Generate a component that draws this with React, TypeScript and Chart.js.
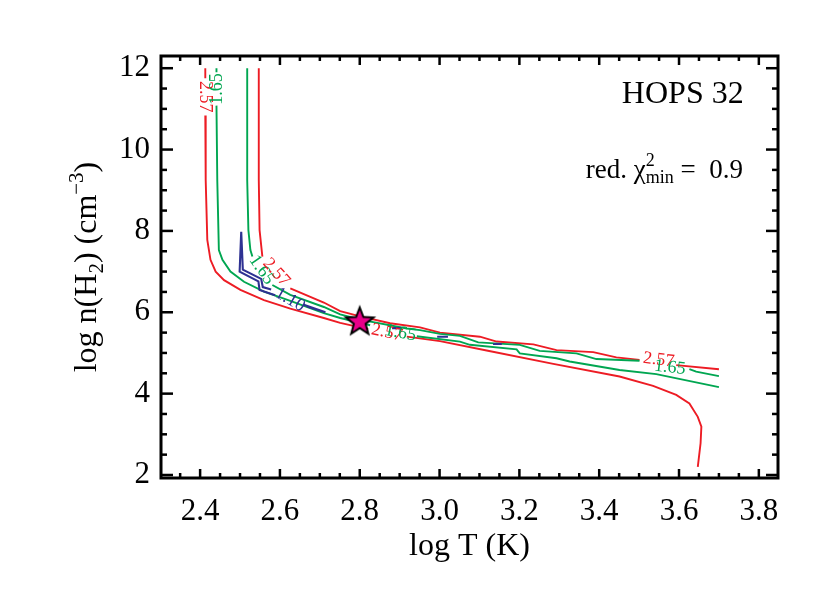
import React, { useEffect, useRef } from 'react';
import { Chart, registerables } from 'chart.js';

Chart.register(...registerables);

const SERIF = "'Liberation Serif', 'Times New Roman', Times, serif";

// ---- axes ----
const xLimits = [2.302, 3.848];
const yLimits = [1.926, 12.3];
const xMajorTicks = [2.4, 2.6, 2.8, 3.0, 3.2, 3.4, 3.6, 3.8];
const yMajorTicks = [2, 4, 6, 8, 10, 12];
const xMinorStep = 0.05;
const yMinorStep = 0.5;

// ---- contour levels ----
const levelValues = ['2.57', '1.65', '1.10'];
const levelColors = ['#ED1C24', '#00A651', '#2E3192'];

// chi2 = 2.57 (red), outer / lower branch  (null = gap where a label sits)
const red257OuterX = [2.413, 2.413, null, 2.413, 2.414, 2.418, 2.426, 2.439, 2.460, 2.501, 2.560, 2.626, 2.710, 2.751, 2.801, 2.821, null, 2.918, 3.001, 3.118, 3.285, 3.451, 3.535, 3.593, 3.626, 3.647, 3.656, 3.654, 3.647];
const red257OuterY = [12.0, 11.75, null, 10.84, 9.25, 7.78, 7.29, 7.00, 6.79, 6.55, 6.30, 6.09, 5.86, 5.74, 5.63, 5.59, null, 5.40, 5.29, 5.06, 4.73, 4.42, 4.19, 3.97, 3.76, 3.43, 3.19, 2.78, 2.20];

// chi2 = 2.57 (red), inner / upper branch
const red257InnerX = [2.547, 2.547, 2.549, 2.556, null, 2.626, 2.710, 2.751, 2.801, 2.876, 2.951, 3.001, 3.101, 3.143, 3.235, 3.293, 3.385, 3.443, 3.501, null, 3.593, 3.700];
const red257InnerY = [12.0, 9.25, 8.02, 7.37, null, 6.59, 6.24, 6.03, 5.90, 5.73, 5.63, 5.50, 5.40, 5.28, 5.21, 5.07, 5.02, 4.89, 4.83, null, 4.70, 4.60];

// chi2 = 1.65 (green), outer / lower branch
const green165OuterX = [2.441, 2.441, null, 2.441, 2.443, 2.447, 2.456, 2.476, 2.510, 2.560, 2.626, 2.710, 2.751, 2.801, 2.826, null, 2.943, 3.051, 3.076, 3.193, 3.201, 3.293, 3.326, 3.451, 3.543, 3.700];
const green165OuterY = [12.0, 11.90, null, 11.08, 9.25, 7.53, 7.29, 7.00, 6.75, 6.51, 6.28, 5.98, 5.86, 5.74, 5.68, null, 5.41, 5.28, 5.20, 5.09, 4.99, 4.87, 4.79, 4.58, 4.48, 4.16];

// chi2 = 1.65 (green), inner / upper branch
const green165InnerX = [2.518, 2.518, 2.521, 2.526, 2.531, null, 2.581, 2.626, 2.710, 2.751, 2.801, 2.918, 2.951, 3.001, 3.051, 3.097, 3.201, 3.251, 3.343, 3.393, 3.501, null, 3.626, 3.643, 3.700];
const green165InnerY = [12.0, 9.25, 8.02, 7.53, 7.37, null, 6.67, 6.43, 6.13, 5.95, 5.82, 5.60, 5.56, 5.47, 5.42, 5.26, 5.20, 5.05, 4.99, 4.85, 4.81, null, 4.60, 4.54, 4.43];

// chi2 = 1.10 (blue) closed contour and small islands
const blue110X = [2.503, 2.499, 2.546, 2.549, 2.588, null, 2.658, 2.714, 2.668, null, 2.503, 2.507, 2.553, 2.557, 2.578, null, 2.881, 2.906, null, 2.994, 3.021, null, 3.134, 3.156];
const blue110Y = [7.98, 7.00, 6.76, 6.55, 6.42, null, 6.19, 6.00, 6.14, null, 7.98, 7.05, 6.82, 6.62, 6.56, null, 5.61, 5.61, null, 5.40, 5.40, null, 5.22, 5.22];

// contour labels (level index, data position, angle in degrees)
const contourLabelLevel = [0, 1, 1, 0, 2, 0, 1, 0, 1];
const contourLabelX = [2.411, 2.444, 2.554, 2.591, 2.625, 2.868, 2.902, 3.549, 3.577];
const contourLabelY = [11.30, 11.49, 7.04, 6.98, 6.31, 5.50, 5.49, 4.83, 4.64];
const contourLabelAngle = [90, -90, 55, 48, 30, 12, 11, 7, 7];

// best fit
const bestX = [2.8];
const bestY = [5.8];

// annotations
const sourceName = 'HOPS 32';
const chiMinValue = '0.9';
const sourceNamePos = [3.762, 11.15];
const chiTextPos = [3.760, 9.30];

function toPoints(xs: (number | null)[], ys: (number | null)[]) {
  const pts: { x: number; y: number | null }[] = [];
  let lastX = xs[0] as number;
  xs.forEach((x, i) => {
    if (x !== null) lastX = x;
    pts.push({ x: x === null ? lastX : x, y: ys[i] });
  });
  return pts;
}

function makeStar(): HTMLCanvasElement {
  const c = document.createElement('canvas');
  const size = 34;
  c.width = size;
  c.height = size;
  const g = c.getContext('2d')!;
  const cx = size / 2, cy = size / 2 + 1.5;
  const R = 14.5, r = 6.2;
  g.beginPath();
  for (let i = 0; i < 10; i++) {
    const rad = i % 2 === 0 ? R : r;
    const a = -Math.PI / 2 + (i * Math.PI) / 5;
    const px = cx + rad * Math.cos(a);
    const py = cy + rad * Math.sin(a);
    if (i === 0) g.moveTo(px, py);
    else g.lineTo(px, py);
  }
  g.closePath();
  g.fillStyle = '#E8008A';
  g.fill();
  g.lineWidth = 2;
  g.lineJoin = 'miter';
  g.strokeStyle = '#000';
  g.stroke();
  return c;
}

const idlPlugin = {
  id: 'idlDecor',
  afterDatasetsDraw(chart: any) {
    const { ctx, scales } = chart;
    const xs = scales.x, ys = scales.y;
    ctx.save();
    ctx.font = `18px ${SERIF}`;
    ctx.textAlign = 'center';
    ctx.textBaseline = 'middle';
    contourLabelX.forEach((lx, i) => {
      const px = xs.getPixelForValue(lx);
      const py = ys.getPixelForValue(contourLabelY[i]);
      ctx.save();
      ctx.translate(px, py);
      ctx.rotate((contourLabelAngle[i] * Math.PI) / 180);
      ctx.fillStyle = levelColors[contourLabelLevel[i]];
      ctx.fillText(levelValues[contourLabelLevel[i]], 0, 0);
      ctx.restore();
    });
    ctx.restore();
  },
  afterDraw(chart: any) {
    const { ctx, chartArea: a, scales } = chart;
    const xs = scales.x, ys = scales.y;
    ctx.save();
    ctx.strokeStyle = '#000';
    ctx.lineCap = 'butt';
    const seg = (x1: number, y1: number, x2: number, y2: number) => {
      ctx.beginPath();
      ctx.moveTo(x1, y1);
      ctx.lineTo(x2, y2);
      ctx.stroke();
    };
    ctx.lineWidth = 2.5;
    // x ticks (bottom and top, pointing inward)
    for (let i = Math.ceil(xs.min / xMinorStep - 1e-6); i * xMinorStep <= xs.max + 1e-9; i++) {
      const v = i * xMinorStep;
      const major = xMajorTicks.some((t) => Math.abs(t - v) < 1e-6);
      const len = major ? 9 : 5;
      const px = xs.getPixelForValue(v);
      seg(px, a.bottom, px, a.bottom - len);
      seg(px, a.top, px, a.top + len);
    }
    // y ticks (left and right)
    for (let i = Math.ceil(ys.min / yMinorStep - 1e-6); i * yMinorStep <= ys.max + 1e-9; i++) {
      const v = i * yMinorStep;
      const major = yMajorTicks.some((t) => Math.abs(t - v) < 1e-6);
      const len = major ? 12 : 6;
      const py = ys.getPixelForValue(v);
      seg(a.left, py, a.left + len, py);
      seg(a.right, py, a.right - len, py);
    }
    ctx.lineWidth = 3;
    ctx.strokeRect(a.left, a.top, a.right - a.left, a.bottom - a.top);

    ctx.fillStyle = '#000';
    ctx.textBaseline = 'alphabetic';

    // y axis title with sub/superscripts
    const yParts = [
      { t: 'log n(H', s: 32, dy: 0 },
      { t: '2', s: 21, dy: 7 },
      { t: ') (cm', s: 32, dy: 0 },
      { t: '\u22123', s: 21, dy: -13 },
      { t: ')', s: 32, dy: 0 },
    ];
    let total = 0;
    yParts.forEach((p) => {
      ctx.font = `${p.s}px ${SERIF}`;
      total += ctx.measureText(p.t).width;
    });
    ctx.save();
    ctx.translate(96, (a.top + a.bottom) / 2);
    ctx.rotate(-Math.PI / 2);
    ctx.textAlign = 'left';
    let cx = -total / 2;
    yParts.forEach((p) => {
      ctx.font = `${p.s}px ${SERIF}`;
      ctx.fillText(p.t, cx, p.dy);
      cx += ctx.measureText(p.t).width;
    });
    ctx.restore();

    // source name
    ctx.textAlign = 'right';
    ctx.font = `32px ${SERIF}`;
    ctx.fillText(sourceName, xs.getPixelForValue(sourceNamePos[0]), ys.getPixelForValue(sourceNamePos[1]));

    // reduced chi2
    const big = 27, small = 18;
    const rightX = xs.getPixelForValue(chiTextPos[0]);
    const baseY = ys.getPixelForValue(chiTextPos[1]);
    ctx.textAlign = 'left';
    ctx.font = `${big}px ${SERIF}`;
    const wRed = ctx.measureText('red. ').width;
    const wChi = ctx.measureText('\u03C7').width;
    const wEnd = ctx.measureText(' =  ' + chiMinValue).width;
    ctx.font = `${small}px ${SERIF}`;
    const wStack = Math.max(ctx.measureText('2').width, ctx.measureText('min').width);
    let x0 = rightX - (wRed + wChi + wStack + wEnd);
    ctx.font = `${big}px ${SERIF}`;
    ctx.fillText('red. ', x0, baseY);
    x0 += wRed;
    ctx.fillText('\u03C7', x0, baseY);
    x0 += wChi;
    ctx.font = `${small}px ${SERIF}`;
    ctx.fillText('2', x0, baseY - 12);
    ctx.fillText('min', x0, baseY + 5);
    x0 += wStack;
    ctx.font = `${big}px ${SERIF}`;
    ctx.fillText(' =  ' + chiMinValue, x0, baseY);
    ctx.restore();
  },
};

export default function App() {
  const ref = useRef<HTMLCanvasElement | null>(null);

  useEffect(() => {
    if (!ref.current) return;
    Chart.defaults.font.family = SERIF;
    const lineDs = (xs: (number | null)[], ys: (number | null)[], color: string, width: number) => ({
      data: toPoints(xs, ys),
      borderColor: color,
      borderWidth: width,
      pointRadius: 0,
      fill: false,
      tension: 0,
      spanGaps: false,
    });
    const chart = new Chart(ref.current, {
      type: 'line',
      data: {
        datasets: [
          {
            data: toPoints(bestX, bestY),
            showLine: false,
            pointStyle: makeStar() as any,
            pointRadius: 15,
            borderColor: '#000',
            backgroundColor: '#E8008A',
          } as any,
          lineDs(blue110X, blue110Y, levelColors[2], 2.1),
          lineDs(green165InnerX, green165InnerY, levelColors[1], 1.9),
          lineDs(green165OuterX, green165OuterY, levelColors[1], 1.9),
          lineDs(red257InnerX, red257InnerY, levelColors[0], 1.9),
          lineDs(red257OuterX, red257OuterY, levelColors[0], 1.9),
        ],
      },
      options: {
        animation: false,
        responsive: false,
        events: [],
        layout: { padding: { left: 0, right: 52, top: 56, bottom: 0 } },
        plugins: { legend: { display: false }, tooltip: { enabled: false } },
        scales: {
          x: {
            type: 'linear',
            min: xLimits[0],
            max: xLimits[1],
            grid: { display: false, drawTicks: false },
            border: { display: false },
            afterBuildTicks: (s: any) => {
              s.ticks = xMajorTicks.map((v) => ({ value: v }));
            },
            afterFit: (s: any) => {
              s.height = 115;
            },
            ticks: {
              autoSkip: false,
              maxRotation: 0,
              padding: 15,
              color: '#000',
              font: { family: SERIF, size: 31 },
              callback: (v: any) => Number(v).toFixed(1),
            },
            title: {
              display: true,
              text: 'log T (K)',
              color: '#000',
              font: { family: SERIF, size: 32 },
              padding: { top: 0, bottom: 27 },
            },
          },
          y: {
            type: 'linear',
            min: yLimits[0],
            max: yLimits[1],
            grid: { display: false, drawTicks: false },
            border: { display: false },
            afterBuildTicks: (s: any) => {
              s.ticks = yMajorTicks.map((v) => ({ value: v }));
            },
            afterFit: (s: any) => {
              s.width = 161;
            },
            ticks: {
              autoSkip: false,
              padding: 11,
              color: '#000',
              font: { family: SERIF, size: 31 },
              callback: (v: any) => String(Math.round(Number(v))),
            },
          },
        },
      } as any,
      plugins: [idlPlugin as any],
    });
    return () => chart.destroy();
  }, []);

  return (
    <div style={{ position: 'fixed', left: 0, top: 0, width: 830, height: 593, background: '#fff' }}>
      <canvas ref={ref} width={830} height={593} style={{ display: 'block' }} />
    </div>
  );
}
